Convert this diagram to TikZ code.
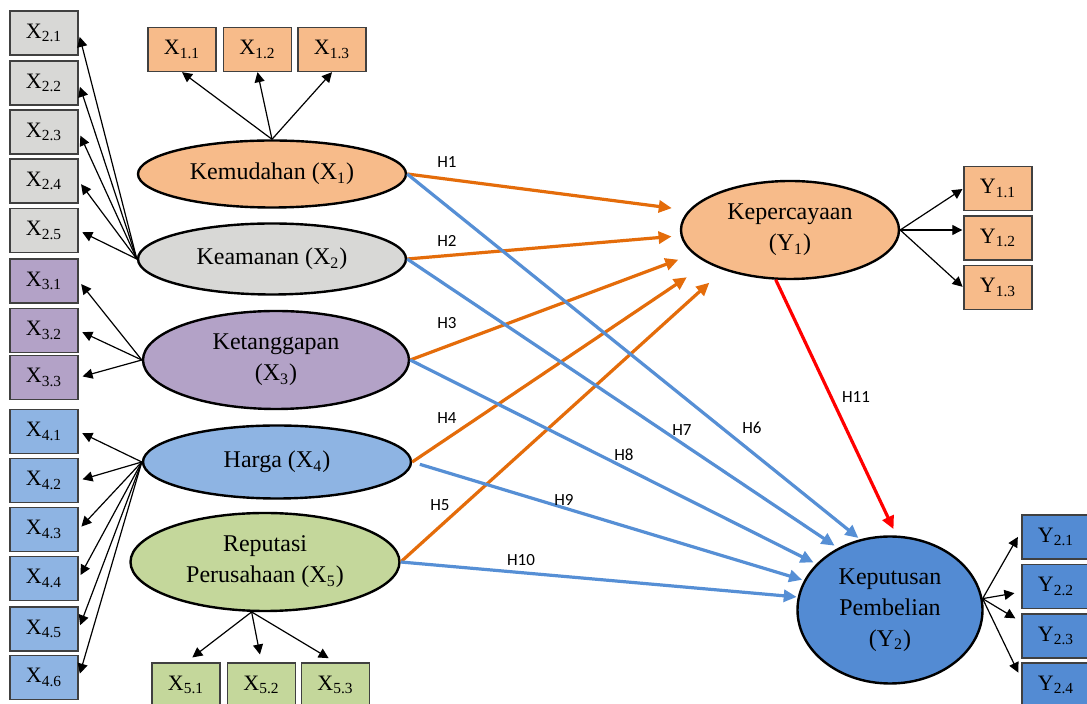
\documentclass[tikz,border=0pt]{standalone}
\usepackage{fontspec}
\setmainfont{Liberation Serif}
\newfontfamily\hfont{Carlito}
\usetikzlibrary{arrows.meta, shapes.geometric}
\definecolor{kemorange}{RGB}{247,187,138}
\definecolor{amangray}{RGB}{216,216,214}
\definecolor{tangpurple}{RGB}{179,162,199}
\definecolor{hargablue}{RGB}{142,180,227}
\definecolor{reputgreen}{RGB}{196,215,155}
\definecolor{putusblue}{RGB}{83,139,211}
\definecolor{hyporange}{RGB}{228,108,10}
\definecolor{hypblue}{RGB}{86,143,213}

\begin{document}
\begin{tikzpicture}[
    x=0.5pt, y=-0.5pt,
    font=\fontsize{12}{15.5}\selectfont,
    indbox/.style={draw=black!75, line width=0.7pt, inner sep=0pt,
        minimum width=34pt, minimum height=22pt, font=\fontsize{11}{13}\selectfont},
    latent/.style={ellipse, draw=black, line width=1.2pt, inner sep=0pt, align=center},
    loadarr/.style={-{Triangle[length=5pt, width=5pt]}, line width=0.6pt, black, shorten >=2pt},
    hypo/.style={-{Triangle[length=6.5pt, width=6pt]}, line width=1.6pt, hyporange},
    hypb/.style={-{Triangle[length=6.5pt, width=6pt]}, line width=1.6pt, hypblue},
    hyplab/.style={font=\hfont\fontsize{8.5}{10}\selectfont},
]

\useasboundingbox (0,0) rectangle (1087,704);
\fill[white] (0,0) rectangle (1087,704);

%============================================================
% Latent constructs
%============================================================
\node[latent, fill=kemorange, minimum width=134pt, minimum height=33.5pt]
    (x1) at (272,174) {Kemudahan (X\textsubscript{1})};
\node[latent, fill=amangray, minimum width=134pt, minimum height=35.5pt]
    (x2) at (272,259) {Keamanan (X\textsubscript{2})};
\node[latent, fill=tangpurple, minimum width=133pt, minimum height=49pt]
    (x3) at (276,360) {Ketanggapan\\(X\textsubscript{3})};
\node[latent, fill=hargablue, minimum width=134pt, minimum height=36.5pt]
    (x4) at (277,462) {Harga (X\textsubscript{4})};
\node[latent, fill=reputgreen, minimum width=134.5pt, minimum height=49pt]
    (x5) at (265,562) {Reputasi\\Perusahaan (X\textsubscript{5})};
\node[latent, fill=kemorange, minimum width=109pt, minimum height=49pt]
    (y1) at (790,230) {Kepercayaan\\(Y\textsubscript{1})};
\node[latent, fill=putusblue, minimum width=92.5pt, minimum height=73.5pt]
    (y2) at (890,610) {Keputusan\\Pembelian\\(Y\textsubscript{2})};

%============================================================
% Indicators
%============================================================
% X1
\node[indbox, fill=kemorange] (x11) at (182,49.5)   {X\textsubscript{1.1}};
\node[indbox, fill=kemorange] (x12) at (257.5,49.5) {X\textsubscript{1.2}};
\node[indbox, fill=kemorange] (x13) at (332,49.5)   {X\textsubscript{1.3}};
% X2
\node[indbox, fill=amangray] (x21) at (44,33)    {X\textsubscript{2.1}};
\node[indbox, fill=amangray] (x22) at (44,83)    {X\textsubscript{2.2}};
\node[indbox, fill=amangray] (x23) at (44,132)   {X\textsubscript{2.3}};
\node[indbox, fill=amangray] (x24) at (44,181)   {X\textsubscript{2.4}};
\node[indbox, fill=amangray] (x25) at (44,230.5) {X\textsubscript{2.5}};
% X3
\node[indbox, fill=tangpurple] (x31) at (44,281)   {X\textsubscript{3.1}};
\node[indbox, fill=tangpurple] (x32) at (44,330.5) {X\textsubscript{3.2}};
\node[indbox, fill=tangpurple] (x33) at (44,377.5) {X\textsubscript{3.3}};
% X4
\node[indbox, fill=hargablue] (x41) at (44,431.5) {X\textsubscript{4.1}};
\node[indbox, fill=hargablue] (x42) at (44,480.5) {X\textsubscript{4.2}};
\node[indbox, fill=hargablue] (x43) at (44,529.5) {X\textsubscript{4.3}};
\node[indbox, fill=hargablue] (x44) at (44,578.5) {X\textsubscript{4.4}};
\node[indbox, fill=hargablue] (x45) at (44,629)   {X\textsubscript{4.5}};
\node[indbox, fill=hargablue] (x46) at (44,677.5) {X\textsubscript{4.6}};
% X5
\node[indbox, fill=reputgreen] (x51) at (186,685)   {X\textsubscript{5.1}};
\node[indbox, fill=reputgreen] (x52) at (261.5,685) {X\textsubscript{5.2}};
\node[indbox, fill=reputgreen] (x53) at (335.5,685) {X\textsubscript{5.3}};
% Y1
\node[indbox, fill=kemorange] (y11) at (998,188.5) {Y\textsubscript{1.1}};
\node[indbox, fill=kemorange] (y12) at (998,238)   {Y\textsubscript{1.2}};
\node[indbox, fill=kemorange] (y13) at (998,287.5) {Y\textsubscript{1.3}};
% Y2
\node[indbox, fill=putusblue] (y21) at (1056,537)   {Y\textsubscript{2.1}};
\node[indbox, fill=putusblue] (y22) at (1056,586.5) {Y\textsubscript{2.2}};
\node[indbox, fill=putusblue] (y23) at (1056,636)   {Y\textsubscript{2.3}};
\node[indbox, fill=putusblue] (y24) at (1056,685)   {Y\textsubscript{2.4}};

%============================================================
% Loadings
%============================================================
\draw[loadarr, shorten >=0pt] (x1.north) -- (x11.south);
\draw[loadarr, shorten >=0pt] (x1.north) -- (x12.south);
\draw[loadarr, shorten >=0pt] (x1.north) -- (x13.south);

\draw[loadarr] (x2.west) -- (x21.east);
\draw[loadarr] (x2.west) -- (x22.east);
\draw[loadarr] (x2.west) -- (x23.east);
\draw[loadarr] (x2.west) -- (x24.east);
\draw[loadarr] (x2.west) -- (x25.east);

\draw[loadarr] (x3.west) -- (x31.east);
\draw[loadarr] (x3.west) -- (x32.east);
\draw[loadarr] (x3.west) -- (x33.east);

\draw[loadarr] (x4.west) -- (x41.east);
\draw[loadarr] (x4.west) -- (x42.east);
\draw[loadarr] (x4.west) -- (x43.east);
\draw[loadarr] (x4.west) -- (x44.east);
\draw[loadarr] (x4.west) -- (x45.east);
\draw[loadarr] (x4.west) -- (x46.east);

\draw[loadarr, shorten >=4pt] (x5.255) -- (x51.north);
\draw[loadarr, shorten >=4pt] (x5.255) -- (x52.north);
\draw[loadarr, shorten >=4pt] (x5.255) -- (x53.north);

\draw[loadarr, shorten >=0.5pt] (y1.east) -- (y11.west);
\draw[loadarr, shorten >=0.5pt] (y1.east) -- (y1.east -| y12.west);
\draw[loadarr, shorten >=0.5pt] (y1.east) -- (y13.west);

\draw[loadarr, shorten >=3.5pt] (y2.7) -- (y21.170);
\draw[loadarr, shorten >=3.5pt] (y2.7) -- (y22.189);
\draw[loadarr, shorten >=3.5pt] (y2.7) -- (y23.158);
\draw[loadarr, shorten >=3.5pt] (y2.7) -- (y24.170);

%============================================================
% Hypotheses to Kepercayaan
%============================================================
\draw[hypo, shorten >=8.5pt] (x1.east) -- (y1.169);
\draw[hypo, shorten >=4.5pt] (x2.east) -- (y1.183);
\draw[hypo, shorten >=8pt]   (x3.east) -- (y1.194);
\draw[hypo, shorten >=12.5pt] (x4.east) -- (y1.202);
\draw[hypo, shorten >=9.5pt] (x5.east) -- (y1.211);

%============================================================
% Hypotheses to Keputusan Pembelian
%============================================================
\draw[hypb, shorten >=1pt] (x1.east) -- (y2.113);
\draw[hypb, shorten >=2pt] (x2.east) -- (y2.130);
\draw[hypb, shorten >=1.5pt] (x3.east) -- (y2.148);
\draw[hypb, shorten <=4pt, shorten >=1pt] (x4.east) -- (y2.161);
\draw[hypb, shorten >=0.5pt] (x5.east) -- (y2.172);

\draw[-{Triangle[length=6.5pt, width=6pt]}, line width=1.6pt, red,
    shorten >=3.5pt] (y1.254) -- (y2.85);

%============================================================
% Labels
%============================================================
\node[hyplab] (h1)  at (447,162) {H1};
\node[hyplab] (h2)  at (447,241) {H2};
\node[hyplab] (h3)  at (447,323) {H3};
\node[hyplab] (h4)  at (447,418) {H4};
\node[hyplab] (h5)  at (440,505) {H5};
\node[hyplab] (h6)  at (752,428) {H6};
\node[hyplab] (h7)  at (682,430) {H7};
\node[hyplab] (h8)  at (624,455) {H8};
\node[hyplab] (h9)  at (564,500) {H9};
\node[hyplab] (h10) at (521,560) {H10};
\node[hyplab] (h11) at (856,397) {H11};

\end{tikzpicture}
\end{document}
